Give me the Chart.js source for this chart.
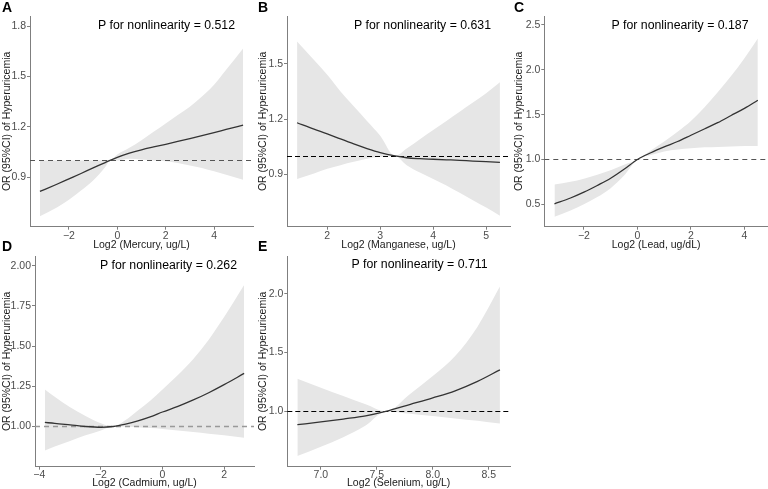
<!DOCTYPE html>
<html>
<head>
<meta charset="utf-8">
<script src="https://cdn.jsdelivr.net/npm/chart.js@4.4.0/dist/chart.umd.min.js"></script>
<style>
  html, body { margin: 0; padding: 0; background: #fff; }
  #fig { position: relative; width: 768px; height: 489px; overflow: hidden; }
  .panel { position: absolute; width: 256px; height: 252px; }
</style>
</head>
<body>
<div id="fig">
  <div class="panel" style="left:0;top:0"><canvas id="cA" width="256" height="252"></canvas></div>
  <div class="panel" style="left:256px;top:0"><canvas id="cB" width="256" height="252"></canvas></div>
  <div class="panel" style="left:512px;top:0"><canvas id="cC" width="256" height="252"></canvas></div>
  <div class="panel" style="left:0;top:237px"><canvas id="cD" width="256" height="252"></canvas></div>
  <div class="panel" style="left:256px;top:237px"><canvas id="cE" width="256" height="252"></canvas></div>
</div>
<script>
// --- A: mercury
const mercuryX     = [-3.2, -2.5, -2, -1.5, -1, -0.5, -0.3, 0, 0.5, 1, 1.5, 2, 2.5, 3, 3.5, 4, 4.5, 5.2];
const mercuryOR    = [0.815, 0.858, 0.89, 0.922, 0.955, 0.987, 1.0, 1.018, 1.043, 1.063, 1.08, 1.096, 1.113, 1.13, 1.147, 1.165, 1.184, 1.21];
const mercuryUpper = [1.0, 1.0, 1.0, 1.0, 1.0, 1.0, 1.0, 1.035, 1.075, 1.12, 1.17, 1.22, 1.27, 1.32, 1.38, 1.45, 1.54, 1.667];
const mercuryLower = [0.667, 0.72, 0.765, 0.82, 0.88, 0.96, 1.0, 1.0, 1.01, 1.005, 1.0, 0.995, 0.985, 0.97, 0.955, 0.935, 0.915, 0.885];
const mercuryXTicks = [-2, 0, 2, 4];
const mercuryYTicks = [0.9, 1.2, 1.5, 1.8];

// --- B: manganese
const manganeseX     = [1.43, 1.75, 2, 2.25, 2.5, 2.75, 3, 3.28, 3.5, 3.75, 4, 4.25, 4.5, 4.75, 5, 5.26];
const manganeseOR    = [1.18, 1.145, 1.12, 1.092, 1.065, 1.04, 1.018, 1.0, 0.99, 0.985, 0.982, 0.979, 0.976, 0.972, 0.969, 0.965];
const manganeseUpper = [1.62, 1.52, 1.44, 1.35, 1.27, 1.19, 1.11, 1.0, 1.04, 1.09, 1.14, 1.19, 1.24, 1.29, 1.34, 1.40];
const manganeseLower = [0.875, 0.905, 0.93, 0.95, 0.968, 0.985, 0.995, 1.0, 0.95, 0.91, 0.875, 0.84, 0.8, 0.76, 0.72, 0.675];
const manganeseXTicks = [2, 3, 4, 5];
const manganeseYTicks = [0.9, 1.2, 1.5];

// --- C: lead
const leadX     = [-3.1, -2.5, -2, -1.5, -1, -0.5, 0, 0.5, 1, 1.5, 2, 2.5, 3, 3.5, 4, 4.5];
const leadOR    = [0.505, 0.57, 0.635, 0.71, 0.79, 0.89, 1.0, 1.075, 1.14, 1.2, 1.27, 1.34, 1.41, 1.49, 1.57, 1.66];
const leadUpper = [0.72, 0.75, 0.785, 0.83, 0.88, 0.94, 1.0, 1.1, 1.2, 1.31, 1.43, 1.58, 1.75, 1.93, 2.13, 2.35];
const leadLower = [0.36, 0.43, 0.5, 0.58, 0.68, 0.82, 1.0, 1.05, 1.09, 1.11, 1.125, 1.135, 1.14, 1.145, 1.15, 1.15];
const leadXTicks = [-2, 0, 2, 4];
const leadYTicks = [0.5, 1.0, 1.5, 2.0, 2.5];

// --- D: cadmium
const cadmiumX     = [-3.82, -3.5, -3, -2.5, -2, -1.6, -1.2, -0.8, -0.4, 0, 0.5, 1, 1.5, 2, 2.65];
const cadmiumOR    = [1.025, 1.02, 1.01, 1.0, 0.995, 1.0, 1.015, 1.035, 1.06, 1.09, 1.125, 1.165, 1.21, 1.26, 1.33];
const cadmiumUpper = [1.23, 1.185, 1.12, 1.065, 1.02, 1.0, 1.04, 1.1, 1.16, 1.23, 1.32, 1.42, 1.54, 1.68, 1.88];
const cadmiumLower = [0.85, 0.875, 0.91, 0.945, 0.975, 1.0, 1.0, 0.995, 0.99, 0.985, 0.975, 0.965, 0.955, 0.945, 0.93];
const cadmiumXTicks = [-4, -2, 0, 2];
const cadmiumYTicks = [1.0, 1.25, 1.5, 1.75, 2.0];

// --- E: selenium
const seleniumX     = [6.79, 7.0, 7.2, 7.4, 7.58, 7.8, 8.0, 8.2, 8.4, 8.6];
const seleniumOR    = [0.887, 0.91, 0.935, 0.962, 1.0, 1.06, 1.115, 1.175, 1.255, 1.353];
const seleniumUpper = [1.277, 1.2, 1.13, 1.06, 1.0, 1.15, 1.3, 1.47, 1.72, 2.06];
const seleniumLower = [0.62, 0.7, 0.78, 0.88, 1.0, 0.98, 0.96, 0.94, 0.92, 0.896];
const seleniumXTicks = [7.0, 7.5, 8.0, 8.5];
const seleniumYTicks = [1.0, 1.5, 2.0];

const REF = 1;
const BAND = '#e6e6e6';
const LINE = '#333333';
const AXIS = '#7f7f7f';
const TICK = '#4d4d4d';
const FONT = 'Arial, "Liberation Sans", sans-serif';
const Y_TITLE = 'OR (95%CI) of Hyperuricemia';

Chart.defaults.font.family = FONT;

const pts = (xs, ys) => xs.map((x, i) => ({ x: x, y: ys[i] }));
const fmt = (v, dec) => (v < 0 ? '\u2212' : '') + Math.abs(v).toFixed(dec);

// dashed reference line (drawn just before the fitted curve) + panel letter and p-value text
const decor = {
  id: 'decor',
  beforeDatasetDraw(chart, args, opts) {
    if (args.index !== 2) return;
    const ctx = chart.ctx, a = chart.chartArea;
    const y = Math.round(chart.scales.y.getPixelForValue(REF)) + 0.5;
    ctx.save();
    ctx.strokeStyle = opts.refColor;
    ctx.lineWidth = opts.refWidth;
    ctx.setLineDash(opts.refDash);
    ctx.beginPath();
    ctx.moveTo(a.left, y);
    ctx.lineTo(a.right, y);
    ctx.stroke();
    ctx.restore();
  },
  afterDraw(chart, args, opts) {
    const ctx = chart.ctx;
    ctx.save();
    ctx.fillStyle = '#000';
    ctx.textBaseline = 'middle';
    ctx.font = 'bold 14px ' + FONT;
    ctx.textAlign = 'left';
    ctx.fillText(opts.letter, opts.letterX, opts.letterY);
    ctx.font = '12.3px ' + FONT;
    ctx.textAlign = 'center';
    ctx.fillText(opts.ptext, opts.pX, opts.pY);
    ctx.restore();
  }
};

function makePanel(id, p) {
  const ctx = document.getElementById(id).getContext('2d');
  return new Chart(ctx, {
    type: 'line',
    data: {
      datasets: [{
        data: pts(p.x, p.upper),
        order: 2,
        borderColor: 'rgba(0,0,0,0)',
        borderWidth: 0,
        backgroundColor: BAND,
        pointRadius: 0,
        fill: '+1',
        cubicInterpolationMode: 'monotone'
      }, {
        data: pts(p.x, p.lower),
        order: 2,
        borderColor: 'rgba(0,0,0,0)',
        borderWidth: 0,
        pointRadius: 0,
        fill: false,
        cubicInterpolationMode: 'monotone'
      }, {
        data: pts(p.x, p.or),
        order: 0,
        borderColor: LINE,
        borderWidth: 1.3,
        pointRadius: 0,
        fill: false,
        cubicInterpolationMode: 'monotone'
      }]
    },
    options: {
      responsive: false,
      animation: false,
      events: [],
      layout: { padding: { top: p.padTop, right: p.padRight, left: 0, bottom: 0 } },
      plugins: {
        legend: { display: false },
        tooltip: { enabled: false },
        decor: {
          refColor: p.refColor, refWidth: p.refWidth, refDash: p.refDash,
          letter: p.letter, letterX: 2, letterY: p.letterY,
          ptext: p.ptext, pX: p.pX, pY: p.pY
        }
      },
      scales: {
        x: {
          type: 'linear',
          min: p.xMin, max: p.xMax,
          afterBuildTicks: s => { s.ticks = p.xTicks.map(v => ({ value: v })); },
          afterFit: s => { s.height = p.xH; },
          grid: { display: true, drawOnChartArea: false, drawTicks: true, tickLength: 3, color: AXIS },
          border: { display: true, color: AXIS, width: 1 },
          ticks: { color: TICK, font: { size: 10.5 }, padding: p.xTickPad, maxRotation: 0, autoSkip: false,
                   callback: v => fmt(v, p.xDec) },
          title: { display: true, text: p.xTitle, color: '#1a1a1a', font: { size: 10.5 },
                   padding: { top: 0, bottom: p.xTitlePad } }
        },
        y: {
          type: 'linear',
          min: p.yMin, max: p.yMax,
          afterBuildTicks: s => { s.ticks = p.yTicks.map(v => ({ value: v })); },
          afterFit: s => { s.width = p.yW; },
          grid: { display: true, drawOnChartArea: false, drawTicks: true, tickLength: 3, color: AXIS },
          border: { display: true, color: AXIS, width: 1 },
          ticks: { color: TICK, font: { size: 10.5 }, padding: 1, autoSkip: false,
                   callback: v => fmt(v, p.yDec) },
          title: { display: true, text: Y_TITLE, color: '#1a1a1a', font: { size: 10.5 },
                   padding: { top: 0.7, bottom: 0 } }
        }
      }
    },
    plugins: [decor]
  });
}

makePanel('cA', {
  x: mercuryX, or: mercuryOR, upper: mercuryUpper, lower: mercuryLower,
  xTicks: mercuryXTicks, yTicks: mercuryYTicks, xDec: 0, yDec: 1,
  xMin: -3.61, xMax: 5.61, yMin: 0.605, yMax: 1.86,
  xTitle: 'Log2 (Mercury, ug/L)', letter: 'A', letterY: 8,
  ptext: 'P for nonlinearity = 0.512', pX: 166.5, pY: 26,
  refColor: '#555555', refWidth: 1, refDash: [5, 4],
  padTop: 16, padRight: 3, xH: 25.3, yW: 30, xTitlePad: 0.7, xTickPad: 0
});

makePanel('cB', {
  x: manganeseX, or: manganeseOR, upper: manganeseUpper, lower: manganeseLower,
  xTicks: manganeseXTicks, yTicks: manganeseYTicks, xDec: 0, yDec: 1,
  xMin: 1.24, xMax: 5.45, yMin: 0.616, yMax: 1.759,
  xTitle: 'Log2 (Manganese, ug/L)', letter: 'B', letterY: 8,
  ptext: 'P for nonlinearity = 0.631', pX: 166.5, pY: 26,
  refColor: '#000000', refWidth: 1.2, refDash: [5, 3],
  padTop: 16, padRight: 2, xH: 25.3, yW: 31, xTitlePad: 0.7, xTickPad: 0
});

makePanel('cC', {
  x: leadX, or: leadOR, upper: leadUpper, lower: leadLower,
  xTicks: leadXTicks, yTicks: leadYTicks, xDec: 0, yDec: 1,
  xMin: -3.48, xMax: 4.88, yMin: 0.25, yMax: 2.6,
  xTitle: 'Log2 (Lead, ug/dL)', letter: 'C', letterY: 8,
  ptext: 'P for nonlinearity = 0.187', pX: 168, pY: 26,
  refColor: '#555555', refWidth: 1, refDash: [5, 4],
  padTop: 16, padRight: 0, xH: 25.3, yW: 32.3, xTitlePad: 0.7, xTickPad: 0
});

makePanel('cD', {
  x: cadmiumX, or: cadmiumOR, upper: cadmiumUpper, lower: cadmiumLower,
  xTicks: cadmiumXTicks, yTicks: cadmiumYTicks, xDec: 0, yDec: 2,
  xMin: -4.14, xMax: 2.97, yMin: 0.75, yMax: 2.06,
  xTitle: 'Log2 (Cadmium, ug/L)', letter: 'D', letterY: 10,
  ptext: 'P for nonlinearity = 0.262', pX: 168.5, pY: 29,
  refColor: '#999999', refWidth: 1.5, refDash: [5, 4],
  padTop: 19, padRight: 2, xH: 22.3, yW: 35, xTitlePad: 0, xTickPad: -0.5
});

makePanel('cE', {
  x: seleniumX, or: seleniumOR, upper: seleniumUpper, lower: seleniumLower,
  xTicks: seleniumXTicks, yTicks: seleniumYTicks, xDec: 1, yDec: 1,
  xMin: 6.70, xMax: 8.69, yMin: 0.53, yMax: 2.32,
  xTitle: 'Log2 (Selenium, ug/L)', letter: 'E', letterY: 10,
  ptext: 'P for nonlinearity = 0.711', pX: 163.5, pY: 28,
  refColor: '#000000', refWidth: 1.2, refDash: [5, 3],
  padTop: 19, padRight: 2, xH: 22.3, yW: 31.3, xTitlePad: 0, xTickPad: -0.5
});
</script>
</body>
</html>
